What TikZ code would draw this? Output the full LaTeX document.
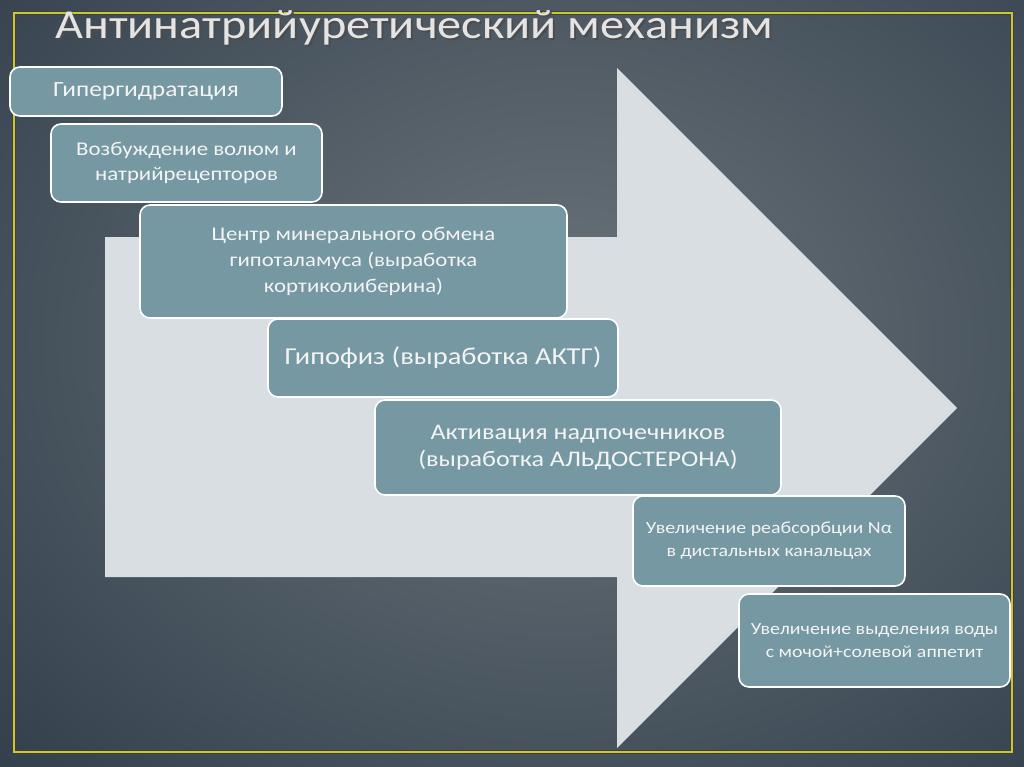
\documentclass[tikz,border=0pt]{standalone}
\usepackage{fontspec}
\setmainfont[FakeStretch=1.17]{Carlito}
\definecolor{bgin}{HTML}{6C757B}
\definecolor{bgout}{HTML}{172636}
\definecolor{arrowc}{HTML}{D8DEE1}
\definecolor{boxc}{HTML}{7598A3}
\definecolor{txtc}{HTML}{F4F4F4}
\definecolor{framey}{HTML}{C9C832}
\definecolor{titlec}{HTML}{E4E4E4}
\begin{document}
\begin{tikzpicture}[x=1pt,y=-1pt,
  stepbox/.style={draw=white, line width=1.6pt, fill=boxc, rounded corners=10pt,
    text=txtc, align=center, inner sep=0pt},
  fs/.style 2 args={font=\fontsize{#1}{#2}\selectfont}]
\useasboundingbox (0,0) rectangle (1024,767);
\fill[bgout] (0,0) rectangle (1024,767);
\begin{scope}
  \clip (0,0) rectangle (1024,767);
  \shade[inner color=bgin, outer color=bgout] (560,340) ellipse (1150 and 920);
\end{scope}
\draw[black!75, line width=4pt] (14,13) rectangle (1012,752);
\draw[framey, line width=2pt] (14,13) rectangle (1012,752);
% big arrow
\fill[arrowc] (105,237) -- (617,237) -- (617,68) -- (957,408) -- (617,748)
  -- (617,577) -- (105,577) -- cycle;
% title
\node[anchor=base west, text=black!70, inner sep=0pt, font=\fontsize{41.3}{48}\selectfont] (titleshadow) at (57,41) {Антинатрийуретический механизм};
\node[anchor=base west, text=titlec, inner sep=0pt, font=\fontsize{41.3}{48}\selectfont] (title) at (55,39) {Антинатрийуретический механизм};
% boxes
\node[stepbox, fs={21.7}{26}, minimum width=272pt, minimum height=49pt] (b1) at (146,91.5) {Гипергидратация};
\node[stepbox, fs={19.5}{25}, minimum width=271pt, minimum height=78pt] (b2) at (186.5,163) {Возбуждение волюм и\\натрийрецепторов};
\node[stepbox, fs={19.5}{26}, minimum width=427pt, minimum height=113pt] (b3) at (353.5,261.5) {Центр минерального обмена\\гипоталамуса (выработка\\кортиколиберина)};
\node[stepbox, fs={24.3}{29}, minimum width=350pt, minimum height=78pt] (b4) at (443,358) {Гипофиз (выработка АКТГ)};
\node[stepbox, fs={22.3}{26.5}, minimum width=406pt, minimum height=95pt] (b5) at (578,447.5) {Активация надпочечников\\(выработка АЛЬДОСТЕРОНА)};
\node[stepbox, fs={17}{23}, minimum width=272pt, minimum height=90pt] (b6) at (769,541) {Увеличение реабсорбции Nα\\в дистальных канальцах};
\node[stepbox, fs={17}{22.5}, minimum width=271pt, minimum height=93pt] (b7) at (874.5,640.5) {Увеличение выделения воды\\с мочой+солевой аппетит};
\end{tikzpicture}
\end{document}
